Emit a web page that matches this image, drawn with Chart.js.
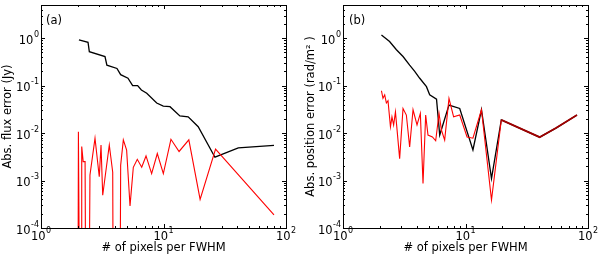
<!DOCTYPE html>
<html>
<head>
<meta charset="utf-8">
<script src="https://cdn.jsdelivr.net/npm/chart.js@4.4.1/dist/chart.umd.min.js"></script>
<style>
  html, body { margin: 0; padding: 0; background: #fff; }
  #wrap { position: relative; width: 600px; height: 256px; }
  .panel { position: absolute; top: 0; width: 300px; height: 256px; }
</style>
</head>
<body>
<div id="wrap">
  <div class="panel" style="left:0"><canvas id="chartA" width="300" height="256"></canvas></div>
  <div class="panel" style="left:300px"><canvas id="chartB" width="300" height="256"></canvas></div>
</div>
<script>
// ---- data ----
// tiny values (1e-7) = points that fall below the bottom of the axis
const LOW = 1e-7;

// panel (a): absolute flux error (Jy)
const fluxBlackX = [2.04, 2.42, 2.48, 3.33, 3.45, 4.17, 4.47, 5.13, 5.6, 6.15, 6.6, 7.3, 8.8, 9.96, 11.3, 13.6, 15.9, 19.2, 26.3, 40.8, 79.8];
const fluxBlackY = [0.92, 0.82, 0.52, 0.41, 0.27, 0.23, 0.17, 0.143, 0.10, 0.10, 0.081, 0.069, 0.043, 0.037, 0.036, 0.023, 0.022, 0.0136, 0.0031, 0.0049, 0.0055];

const fluxRedX = [2.0, 2.02, 2.08, 2.13, 2.15, 2.21, 2.29, 2.33, 2.45, 2.51, 2.76, 2.99, 3.09, 3.19, 3.61, 3.85, 3.9, 4.4, 4.47, 4.7, 5.0, 5.33, 5.67, 6.11, 6.64, 7.2, 8.0, 8.9, 9.97, 11.5, 13.4, 16.1, 19.9, 26.6, 79.8];
const fluxRedY = [LOW, 0.0107, LOW, LOW, 0.0052, 0.0025, 0.0025, LOW, LOW, 0.0013, 0.0078, 0.0012, 0.0056, 0.00049, 0.0056, 0.0015, LOW, LOW, 0.0021, 0.0072, 0.0044, 0.00029, 0.0019, 0.0028, 0.0019, 0.0033, 0.0014, 0.0037, 0.0014, 0.0074, 0.0041, 0.0072, 0.0004, 0.0046, 0.00019];

// panel (b): absolute position error (rad/m^2)
const posBlackX = [2.06, 2.4, 2.73, 3.09, 3.5, 3.85, 4.23, 4.8, 5.1, 5.8, 6.16, 7.33, 8.97, 11.5, 13.5, 16.3, 19.6, 40.3, 55.2, 81.3];
const posBlackY = [1.17, 0.85, 0.57, 0.41, 0.27, 0.20, 0.143, 0.095, 0.064, 0.052, 0.0091, 0.039, 0.033, 0.0044, 0.031, 0.0011, 0.019, 0.0082, 0.0129, 0.024];

const posRedX = [2.06, 2.12, 2.19, 2.26, 2.33, 2.44, 2.51, 2.59, 2.68, 2.9, 3.09, 3.29, 3.5, 3.73, 4.02, 4.28, 4.5, 4.73, 4.94, 5.37, 5.71, 6.08, 6.36, 6.76, 7.33, 8.0, 8.97, 10.3, 11.5, 13.5, 16.3, 19.6, 40.3, 55.2, 81.3];
const posRedY = [0.078, 0.054, 0.064, 0.043, 0.048, 0.0136, 0.022, 0.0148, 0.028, 0.0029, 0.033, 0.024, 0.0051, 0.031, 0.0148, 0.026, 0.00087, 0.024, 0.0091, 0.0083, 0.0069, 0.026, 0.0116, 0.0071, 0.054, 0.022, 0.024, 0.0083, 0.0078, 0.031, 0.00039, 0.019, 0.0082, 0.0129, 0.024];

// axis ticks (base^exponent)
const xTicks = [1, 10, 100];
const xTickLabels = ['10^0', '10^1', '10^2'];
const yTicks = [1e-4, 1e-3, 1e-2, 1e-1, 1];
const yTickLabels = ['10^-4', '10^-3', '10^-2', '10^-1', '10^0'];

const FONT = { family: 'DejaVu Sans', size: 11.5 };
const BASE_FONT = '11.5px "DejaVu Sans"';
const SUP_FONT = '8px "DejaVu Sans"';

function toPoints(xs, ys) {
    return xs.map((x, i) => ({ x: x, y: ys[i] }));
}

// draws "10" with a raised exponent; align: 'right' or 'center'
function drawPow(ctx, label, x, baseline, align) {
    const [base, exp] = label.split('^');
    ctx.font = BASE_FONT;
    const wb = ctx.measureText(base).width;
    ctx.font = SUP_FONT;
    const we = ctx.measureText(exp).width;
    const total = wb + 0.5 + we;
    const x0 = align === 'right' ? x - total : x - total / 2;
    ctx.font = BASE_FONT;
    ctx.fillText(base, x0, baseline);
    ctx.font = SUP_FONT;
    ctx.fillText(exp, x0 + wb + 0.5, baseline - 7);
}

// box around the plot, inward major/minor ticks and tick labels (matplotlib style)
const frameTicks = {
    id: 'frameTicks',
    afterDatasetsDraw(chart, args, opts) {
        const { ctx, chartArea: a, scales } = chart;
        const xs = scales.x, ys = scales.y;
        ctx.save();
        ctx.strokeStyle = '#000';
        ctx.lineWidth = 1;
        ctx.beginPath();
        for (let d = 1; d <= 100; d *= 10) {
            for (let m = 1; m <= 9; m++) {
                const v = d * m;
                if (v < xs.min || v > xs.max) continue;
                const px = Math.round(xs.getPixelForValue(v)) + 0.5;
                const len = m === 1 ? 4 : 2;
                ctx.moveTo(px, a.bottom); ctx.lineTo(px, a.bottom - len);
                ctx.moveTo(px, a.top); ctx.lineTo(px, a.top + len);
            }
        }
        for (let e = -4; e <= 0; e++) {
            for (let m = 1; m <= 9; m++) {
                const v = m * Math.pow(10, e);
                if (v < ys.min * 0.999 || v > ys.max) continue;
                const py = Math.round(ys.getPixelForValue(v)) + 0.5;
                const len = m === 1 ? 4 : 2;
                ctx.moveTo(a.left, py); ctx.lineTo(a.left + len, py);
                ctx.moveTo(a.right, py); ctx.lineTo(a.right - len, py);
            }
        }
        ctx.stroke();
        ctx.strokeRect(Math.round(a.left) + 0.5, Math.round(a.top) + 0.5,
                       Math.round(a.right - a.left), Math.round(a.bottom - a.top));

        ctx.fillStyle = '#000';
        ctx.textBaseline = 'alphabetic';
        ctx.textAlign = 'left';
        xs.ticks.forEach((t, i) => {
            drawPow(ctx, xTickLabels[i], xs.getPixelForValue(t.value), a.bottom + 11.5, 'center');
        });
        ys.ticks.forEach((t, i) => {
            drawPow(ctx, yTickLabels[i], a.left - 2, ys.getPixelForValue(t.value) + 5.5, 'right');
        });

        // panel tag
        ctx.font = BASE_FONT;
        ctx.textBaseline = 'middle';
        ctx.fillText(opts.tag, a.left + opts.tagDx, a.top + 16);
        ctx.restore();
    }
};

function makeChart(id, red, black, yTitle, yWidth, rightPad, titlePad, tag, tagDx, overlapFrom) {
    return new Chart(document.getElementById(id), {
        type: 'line',
        data: {
            datasets: [
                {
                    data: red, borderColor: '#ff0000', borderWidth: 1.1, pointRadius: 0, tension: 0,
                    segment: {
                        borderColor: (c) => c.p0.parsed.x >= overlapFrom ? '#a00000' : undefined,
                        borderWidth: (c) => c.p0.parsed.x >= overlapFrom ? 1.8 : undefined
                    }
                },
                { data: black, borderColor: '#000000', borderWidth: 1.3, pointRadius: 0, tension: 0 }
            ]
        },
        options: {
            responsive: false,
            animation: false,
            events: [],
            layout: { padding: { top: 5, right: rightPad, left: 0, bottom: 0 } },
            plugins: {
                legend: { display: false },
                tooltip: { enabled: false },
                frameTicks: { tag: tag, tagDx: tagDx }
            },
            scales: {
                x: {
                    type: 'logarithmic',
                    min: 1, max: 100,
                    grid: { display: false },
                    border: { display: false },
                    afterBuildTicks: (s) => { s.ticks = xTicks.map(v => ({ value: v })); },
                    afterFit: (s) => { s.height = 28; },
                    ticks: { display: false },
                    title: { display: true, text: '# of pixels per FWHM', color: '#000', font: FONT, padding: { top: 0, bottom: 1 } }
                },
                y: {
                    type: 'logarithmic',
                    min: 1e-4, max: 5,
                    grid: { display: false },
                    border: { display: false },
                    afterBuildTicks: (s) => { s.ticks = yTicks.map(v => ({ value: v })); },
                    afterFit: (s) => { s.width = yWidth; },
                    ticks: { display: false },
                    title: { display: true, text: yTitle, color: '#000', font: FONT, padding: { top: titlePad, bottom: 0 } }
                }
            }
        },
        plugins: [frameTicks]
    });
}

makeChart('chartA', toPoints(fluxRedX, fluxRedY), toPoints(fluxBlackX, fluxBlackY),
          'Abs. flux error (Jy)', 41, 14, 1, '(a)', 5, 1000);
makeChart('chartB', toPoints(posRedX, posRedY), toPoints(posBlackX, posBlackY),
          'Abs. position error (rad/m² )', 43, 12, 4, '(b)', 6, 19);
</script>
</body>
</html>
